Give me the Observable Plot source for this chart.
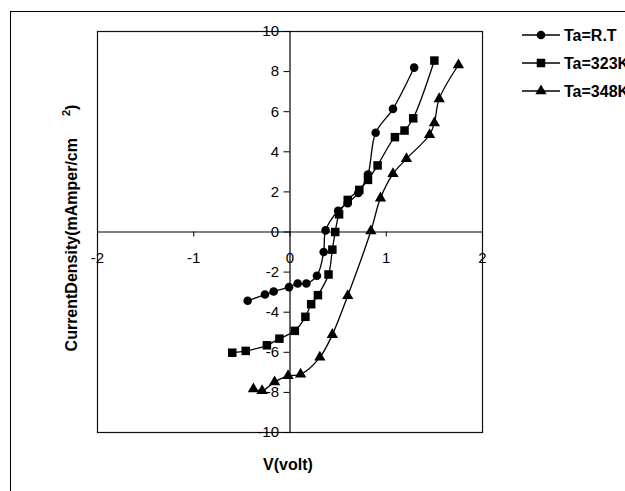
<!DOCTYPE html>
<html>
<head>
<meta charset="utf-8">
<script src="https://cdn.jsdelivr.net/npm/d3@7"></script>
<script src="https://cdn.jsdelivr.net/npm/@observablehq/plot@0.6"></script>
<style>
  html, body { margin: 0; padding: 0; background: #fff; }
  #wrap { position: relative; width: 625px; height: 491px; overflow: hidden; font-family: "Liberation Sans", Arial, sans-serif; }
  #outer { position: absolute; left: 10px; top: 11px; width: 700px; height: 600px; border-left: 1.5px solid #000; border-top: 1.5px solid #000; box-sizing: border-box; }
  #chart { position: absolute; left: 0; top: 0; }
  #legend { position: absolute; left: 515px; top: 20px; }
</style>
</head>
<body>
<div id="wrap">
  <div id="outer"></div>
  <div id="chart"></div>
  <div id="legend"></div>
</div>
<script>
// ---- data ----
const seriesNames = ["Ta=R.T", "Ta=323K", "Ta=348K"];
const seriesSymbols = ["circle", "square", "triangle"];

const rtV = [-0.44, -0.26, -0.17, -0.01, 0.08, 0.17, 0.28, 0.35, 0.37, 0.50, 0.60, 0.71, 0.81, 0.89, 1.07, 1.29];
const rtJ = [-3.43, -3.12, -2.97, -2.75, -2.57, -2.57, -2.18, -1.0, 0.08, 1.06, 1.44, 1.95, 2.87, 4.95, 6.14, 8.2];

const k323V = [-0.60, -0.46, -0.24, -0.11, 0.05, 0.16, 0.22, 0.29, 0.40, 0.44, 0.47, 0.51, 0.60, 0.72, 0.81, 0.91, 1.09, 1.19, 1.28, 1.50];
const k323J = [-6.02, -5.93, -5.65, -5.32, -4.93, -4.23, -3.6, -3.15, -2.12, -0.88, 0.0, 0.88, 1.6, 2.1, 2.6, 3.32, 4.73, 5.06, 5.67, 8.55];

const k348V = [-0.38, -0.29, -0.16, -0.02, 0.11, 0.31, 0.44, 0.60, 0.84, 0.94, 1.07, 1.21, 1.45, 1.50, 1.55, 1.75];
const k348J = [-7.83, -7.92, -7.48, -7.17, -7.1, -6.25, -5.12, -3.18, 0.05, 1.69, 2.9, 3.65, 4.85, 5.44, 6.64, 8.33];

const xTicks = [-2, -1, 0, 1, 2];
const yTicks = [-10, -8, -6, -4, -2, 0, 2, 4, 6, 8, 10];
const xTitle = "V(volt)";
const yTitleMain = "CurrentDensity(mAmper/cm";
const yTitleSup = "2";

// ---- build table ----
const allV = [rtV, k323V, k348V];
const allJ = [rtJ, k323J, k348J];
const data = [];
allV.forEach((vs, s) => vs.forEach((v, i) => data.push({series: seriesNames[s], v, j: allJ[s][i]})));

const font = '"Liberation Sans", Arial, sans-serif';

const chart = Plot.plot({
  width: 625,
  height: 491,
  marginLeft: 97,
  marginRight: 143,
  marginTop: 31,
  marginBottom: 59,
  style: {fontFamily: font, background: "transparent"},
  x: {domain: [-2, 2], axis: null},
  y: {domain: [-10, 10], axis: null},
  symbol: {domain: seriesNames, range: seriesSymbols},
  marks: [
    Plot.frame({stroke: "#111", strokeWidth: 1.2}),
    Plot.ruleX([0], {stroke: "#000", strokeWidth: 1.2}),
    Plot.ruleY([0], {stroke: "#000", strokeWidth: 1.2}),
    // tick marks
    Plot.ruleX(xTicks, {x: d => d, y1: d => 0, y2: d => 0, insetTop: 0, insetBottom: -5, stroke: "#000"}),
    Plot.ruleY(yTicks, {y: d => d, x1: d => 0, x2: d => 0, insetLeft: -6, insetRight: 0, stroke: "#000"}),
    // tick labels
    Plot.text(xTicks, {x: d => d, y: d => 0, text: d => String(d), dy: 26, fontSize: 15, fill: "#000"}),
    Plot.text(yTicks, {x: d => 0, y: d => d, text: d => String(d), dx: -11, textAnchor: "end", fontSize: 15, fill: "#000"}),
    // series
    Plot.line(data, {x: "v", y: "j", z: "series", curve: "catmull-rom", stroke: "#000", strokeWidth: 1.3}),
    Plot.dot(data.filter(d => d.series === seriesNames[0]), {x: "v", y: "j", symbol: "series", r: 4.3, fill: "#000", stroke: "none"}),
    Plot.dot(data.filter(d => d.series === seriesNames[1]), {x: "v", y: "j", symbol: "series", r: 4.8, fill: "#000", stroke: "none"}),
    Plot.dot(data.filter(d => d.series === seriesNames[2]), {x: "v", y: "j", symbol: "series", r: 4.2, fill: "#000", stroke: "none"})
  ]
});
document.getElementById("chart").appendChild(chart);

// axis titles
const svg = d3.select(chart);
svg.append("text")
  .attr("x", 288).attr("y", 470)
  .attr("text-anchor", "middle")
  .attr("font-family", font).attr("font-weight", "bold").attr("font-size", 16)
  .text(xTitle);

const yt = svg.append("text")
  .attr("transform", "translate(77,228) rotate(-90)")
  .attr("text-anchor", "middle")
  .attr("font-family", font).attr("font-weight", "bold").attr("font-size", 16);
yt.append("tspan").text(yTitleMain);
yt.append("tspan").attr("dx", 22).attr("dy", -7).attr("font-size", 11).text(yTitleSup);
yt.append("tspan").attr("dy", 7).text(")");

// legend
const lg = d3.select("#legend").append("svg").attr("width", 120).attr("height", 90);
seriesNames.forEach((name, i) => {
  const y = 15 + i * 28;
  const g = lg.append("g");
  g.append("line").attr("x1", 7).attr("x2", 45).attr("y1", y).attr("y2", y).attr("stroke", "#000").attr("stroke-width", 1.3);
  const sym = [d3.symbolCircle, d3.symbolSquare, d3.symbolTriangle][i];
  const size = [Math.PI * 4.3 * 4.3, Math.PI * 4.8 * 4.8, Math.PI * 4.2 * 4.2][i];
  g.append("path").attr("d", d3.symbol(sym, size)()).attr("transform", `translate(26,${y})`).attr("fill", "#000");
  g.append("text").attr("x", 49).attr("y", y).attr("dy", "0.36em")
    .attr("font-family", font).attr("font-weight", "bold").attr("font-size", 16)
    .text(name);
});
</script>
</body>
</html>
